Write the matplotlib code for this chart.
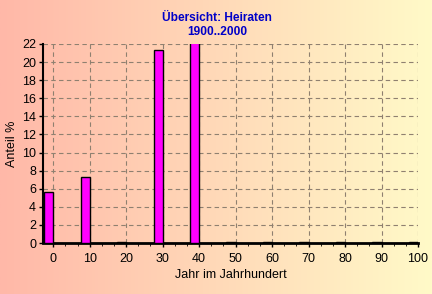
import numpy as np
import matplotlib
matplotlib.use('Agg')
import matplotlib.pyplot as plt
from matplotlib.colors import LinearSegmentedColormap
from matplotlib.ticker import MultipleLocator, AutoMinorLocator

plt.rcParams['font.family'] = ['Liberation Sans', 'DejaVu Sans']

# Anteil der Heiraten je Jahrzehnt
jahre = [0, 10, 20, 30, 40, 50, 60, 70, 80, 90, 100]
anteil = [5.6, 7.3, 0.15, 21.3, 64.0, 0.15, 0.15, 0.15, 0.15, 0.15, 0.15]

fig = plt.figure(figsize=(4.32, 2.94), dpi=100)

# hintergrund: verlauf von rosa nach hellgelb
bg = fig.add_axes([0, 0, 1, 1], zorder=-10)
cmap = LinearSegmentedColormap.from_list('bg', ['#ffb8a8', '#fffac8'])
bg.imshow(np.linspace(0, 1, 256).reshape(1, -1), aspect='auto', cmap=cmap,
          extent=[0, 1, 0, 1])
bg.axis('off')

ax = fig.add_axes([43 / 432, 1 - 243 / 294, 375 / 432, 199 / 294])
ax.patch.set_alpha(0)

ax.bar(jahre, anteil, width=-2.5, align='edge', color='#ff00ff',
       edgecolor='black', linewidth=1, zorder=3)

ax.set_xlim(-2.8, 100)
ax.set_ylim(0, 22)
ax.xaxis.set_major_locator(MultipleLocator(10))
ax.xaxis.set_minor_locator(AutoMinorLocator(3))
ax.yaxis.set_major_locator(MultipleLocator(2))

ax.grid(True, which='major', linestyle=(0, (4, 3)), color='#8f8070', linewidth=0.8)
for s in ['top', 'right']:
    ax.spines[s].set_visible(False)
ax.spines['left'].set_linewidth(1.5)
ax.spines['bottom'].set_linewidth(2)

ax.tick_params(axis='both', labelsize=9, colors='black', length=3, width=1)
ax.tick_params(axis='x', pad=4)
ax.tick_params(axis='y', pad=2)
ax.tick_params(axis='x', which='minor', length=2)

ax.set_xlabel('Jahr im Jahrhundert', fontsize=9, labelpad=3)
ax.set_ylabel('Anteil %', fontsize=9, labelpad=3)

fig.text(0.503, 0.939, 'Übersicht: Heiraten', ha='center', va='center',
         color='#0000c8', fontsize=8.6, fontweight='bold')
fig.text(0.503, 0.891, '1900..2000', ha='center', va='center',
         color='#0000c8', fontsize=8.6, fontweight='bold')

fig.savefig('out.png', dpi=100)
